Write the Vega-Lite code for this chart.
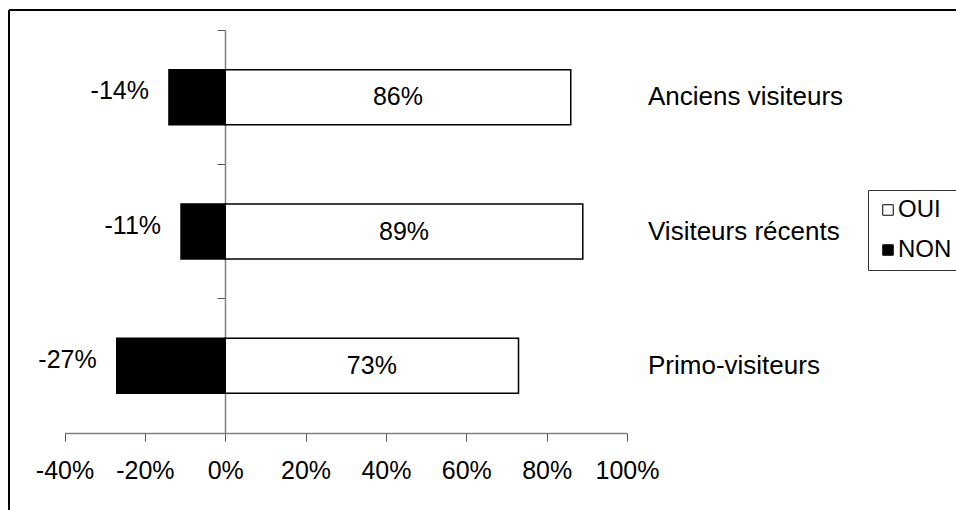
{
  "$schema": "https://vega.github.io/schema/vega-lite/v6.json",
  "autosize": "none",
  "padding": {"left": 9, "top": 10, "right": 0, "bottom": 0},
  "width": 947,
  "height": 500,
  "background": "white",
  "config": {
    "font": "Liberation Sans",
    "view": {"stroke": "black", "strokeWidth": 2, "strokeDash": [947, 1447, 500, 0]}
  },
  "data": {
    "values": [
      {"cat": "Anciens visiteurs", "rep": "OUI", "val": 86},
      {"cat": "Anciens visiteurs", "rep": "NON", "val": -14},
      {"cat": "Visiteurs récents", "rep": "OUI", "val": 89},
      {"cat": "Visiteurs récents", "rep": "NON", "val": -11},
      {"cat": "Primo-visiteurs", "rep": "OUI", "val": 73},
      {"cat": "Primo-visiteurs", "rep": "NON", "val": -27}
    ]
  },
  "transform": [
    {"calculate": "datum.val + '%'", "as": "lbl"},
    {"calculate": "datum.val / 2", "as": "mid"}
  ],
  "encoding": {
    "y": {
      "field": "cat",
      "type": "nominal",
      "sort": ["Anciens visiteurs", "Visiteurs récents", "Primo-visiteurs"],
      "scale": {"range": [20, 423], "paddingInner": 0, "paddingOuter": 0},
      "axis": {
        "orient": "left",
        "offset": -216,
        "labels": false,
        "title": null,
        "bandPosition": 0,
        "domainColor": "#808080",
        "domainWidth": 1.5,
        "tickColor": "#555555",
        "tickSize": 8,
        "tickWidth": 1
      }
    }
  },
  "layer": [
    {
      "mark": {"type": "bar", "stroke": "black", "strokeWidth": 1.5, "height": {"band": 0.41}},
      "encoding": {
        "x": {
          "field": "val",
          "type": "quantitative",
          "scale": {"domain": [-40, 100], "range": [55.5, 618], "nice": false, "zero": false},
          "axis": {
            "orient": "bottom",
            "offset": -77,
            "values": [-40, -20, 0, 20, 40, 60, 80, 100],
            "labelExpr": "datum.value + '%'",
            "labelOverlap": false,
            "labelFlush": false,
            "title": null,
            "grid": false,
            "domainColor": "#808080",
            "domainWidth": 1.5,
            "tickColor": "#555555",
            "tickWidth": 1,
            "tickSize": 8,
            "labelFontSize": 25,
            "labelColor": "black",
            "labelPadding": 17,
            "labelFont": "Liberation Sans"
          }
        },
        "color": {
          "field": "rep",
          "type": "nominal",
          "scale": {"domain": ["OUI", "NON"], "range": ["white", "black"]},
          "legend": {
            "title": null,
            "orient": "none",
            "legendX": 859,
            "legendY": 180,
            "symbolType": "square",
            "symbolSize": 110,
            "symbolStrokeColor": "black",
            "symbolStrokeWidth": 1,
            "labelFontSize": 24,
            "labelColor": "black",
            "labelFont": "Liberation Sans",
            "labelOffset": -2,
            "rowPadding": 16,
            "padding": 8,
            "strokeColor": "#333333",
            "fillColor": "white"
          }
        }
      }
    },
    {
      "transform": [{"filter": "datum.rep === 'OUI'"}],
      "mark": {"type": "text", "fontSize": 25, "color": "black", "align": "center", "baseline": "middle"},
      "encoding": {
        "x": {"field": "mid", "type": "quantitative"},
        "text": {"field": "lbl"}
      }
    },
    {
      "transform": [{"filter": "datum.rep === 'NON'"}],
      "mark": {"type": "text", "fontSize": 25, "color": "black", "align": "right", "baseline": "middle", "dx": -20, "dy": -6},
      "encoding": {
        "x": {"field": "val", "type": "quantitative"},
        "text": {"field": "lbl"}
      }
    },
    {
      "transform": [{"filter": "datum.rep === 'OUI'"}],
      "mark": {"type": "text", "fontSize": 26, "color": "black", "align": "left", "baseline": "middle", "x": 639},
      "encoding": {
        "text": {"field": "cat"}
      }
    }
  ]
}
